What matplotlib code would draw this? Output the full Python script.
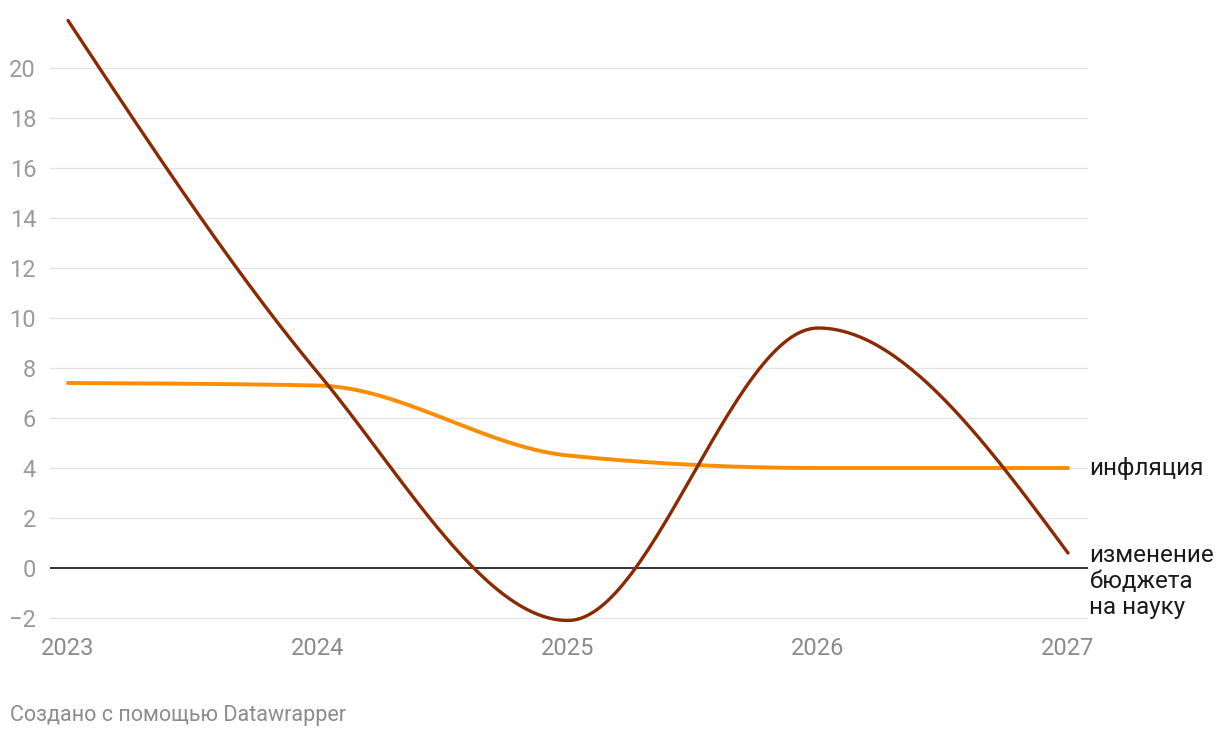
import numpy as np
import matplotlib
matplotlib.use("Agg")
import matplotlib.pyplot as plt

plt.rcParams['font.family'] = ['Roboto', 'DejaVu Sans']

years = [2023, 2024, 2025, 2026, 2027]
budget = [21.9, 7.8, -2.1, 9.6, 0.6]      # изменение бюджета на науку
inflation = [7.4, 7.3, 4.5, 4.0, 4.0]     # инфляция
yticks = [-2, 0, 2, 4, 6, 8, 10, 12, 14, 16, 18, 20]


def monotone_x(x, y, n=60):
    """d3 curveMonotoneX style smoothing between the data points"""
    x = np.asarray(x, float)
    y = np.asarray(y, float)
    h = np.diff(x)
    s = np.diff(y) / h
    t = np.zeros(len(x))
    for i in range(1, len(x) - 1):
        p = (s[i - 1] * h[i] + s[i] * h[i - 1]) / (h[i - 1] + h[i])
        t[i] = (np.sign(s[i - 1]) + np.sign(s[i])) * min(abs(s[i - 1]), abs(s[i]), 0.5 * abs(p))
    t[0] = (3 * s[0] - t[1]) / 2
    t[-1] = (3 * s[-1] - t[-2]) / 2
    xs, ys = [], []
    for i in range(len(x) - 1):
        u = np.linspace(0, 1, n)
        h00 = 2 * u**3 - 3 * u**2 + 1
        h10 = u**3 - 2 * u**2 + u
        h01 = -2 * u**3 + 3 * u**2
        h11 = u**3 - u**2
        xs.append(x[i] + u * h[i])
        ys.append(h00 * y[i] + h10 * h[i] * t[i] + h01 * y[i + 1] + h11 * h[i] * t[i + 1])
    return np.concatenate(xs), np.concatenate(ys)


fig = plt.figure(figsize=(12.2, 7.38), dpi=100)
W, H = 1220, 738
left, right, top, bottom = 50, 1088, 15, 623
ax = fig.add_axes([left / W, 1 - bottom / H, (right - left) / W, (bottom - top) / H])
ax.set_xlim(2023 - 18 / 250, 2027 + 20 / 250)
ax.set_ylim(-(bottom - 568) / 25, (568 - top) / 25)

for v in yticks:
    if v == 0:
        ax.axhline(0, color='#111111', lw=1.2, zorder=2)
    else:
        ax.axhline(v, color='#e2e2e2', lw=0.9, zorder=1)

xi, yi = monotone_x(years, inflation)
ax.plot(xi, yi, color='#fc8d00', lw=2.8, solid_capstyle='round', zorder=3)
xb, yb = monotone_x(years, budget)
ax.plot(xb, yb, color='#8b2a02', lw=2.4, solid_capstyle='round', zorder=4)

for s in ax.spines.values():
    s.set_visible(False)
ax.set_yticks(yticks)
ax.set_yticklabels([str(v).replace('-', '\u2212') for v in yticks])
ax.set_xticks(years)
ax.set_xticklabels([str(y) for y in years])
ax.tick_params(axis='y', length=0, pad=10, labelsize=17, labelcolor='#9a9a9a')
ax.tick_params(axis='x', length=0, pad=10, labelsize=17, labelcolor='#8a8a8a')

ax.annotate('инфляция', xy=(1, inflation[-1]), xycoords=('axes fraction', 'data'),
            xytext=(1, 0), textcoords='offset points', ha='left', va='center',
            fontsize=17.4, color='#1a1a1a', annotation_clip=False)
ax.annotate('изменение\nбюджета\nна науку', xy=(1, budget[-1]), xycoords=('axes fraction', 'data'),
            xytext=(1, -20.6), textcoords='offset points', ha='left', va='center',
            fontsize=17.4, color='#1a1a1a', linespacing=1.16, annotation_clip=False)

fig.text(10 / W, 1 - 715 / H, 'Создано с помощью Datawrapper', fontsize=15.5,
         color='#8c8c8c', ha='left', va='center')

fig.savefig('out.png', dpi=100)
